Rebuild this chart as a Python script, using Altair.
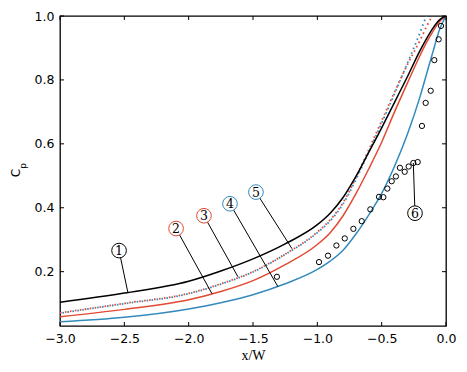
import altair as alt
import pandas as pd

RED = "#E24A33"
BLUE = "#348ABD"

# ---- curve data ----
curve_x = [-3.0, -2.5, -2.0, -1.75, -1.5, -1.25, -1.0, -0.9, -0.8, -0.7, -0.6, -0.5,
           -0.4, -0.3, -0.2, -0.15, -0.1, -0.05, 0.0]
black_y = [0.104, 0.133, 0.170, 0.202, 0.240, 0.287, 0.347, 0.383, 0.432, 0.498, 0.574,
           0.650, 0.730, 0.810, 0.893, 0.930, 0.963, 0.988, 1.0]
red_y = [0.059, 0.082, 0.112, 0.138, 0.172, 0.222, 0.285, 0.322, 0.375, 0.444, 0.522,
         0.605, 0.700, 0.790, 0.878, 0.918, 0.953, 0.983, 1.0]
blue_y = [0.043, 0.057, 0.083, 0.103, 0.128, 0.162, 0.207, 0.233, 0.267, 0.318, 0.378,
          0.445, 0.530, 0.630, 0.750, 0.820, 0.890, 0.958, 1.0]
red_dot_y = [0.071, 0.101, 0.132, 0.162, 0.200, 0.255, 0.324, 0.362, 0.416, 0.494, 0.582,
             0.672, 0.762, 0.848, 0.925, 0.968, 1.005, 1.040, 1.060]
blue_dot_y = [0.070, 0.100, 0.131, 0.161, 0.199, 0.254, 0.322, 0.359, 0.412, 0.488, 0.575,
              0.665, 0.757, 0.852, 0.950, 1.003, 1.050, 1.080, 1.100]

# ---- experimental points ----
exp_x = [-1.314, -0.987, -0.917, -0.852, -0.787, -0.720, -0.655, -0.588, -0.521, -0.487,
         -0.456, -0.422, -0.389, -0.358, -0.321, -0.290, -0.254, -0.220, -0.187, -0.158,
         -0.119, -0.091, -0.057, -0.039]
exp_y = [0.184, 0.230, 0.250, 0.282, 0.304, 0.334, 0.358, 0.395, 0.434, 0.433,
         0.460, 0.483, 0.498, 0.525, 0.5125, 0.529, 0.540, 0.543, 0.656, 0.728,
         0.766, 0.862, 0.927, 0.969]

# ---- annotations ----
ann_id = ["1", "2", "3", "4", "5", "6"]
ann_x = [-2.541, -2.098, -1.881, -1.679, -1.477, -0.241]
ann_y = [0.266, 0.335, 0.375, 0.4125, 0.449, 0.383]
tgt_x = [-2.472, -1.819, -1.617, -1.306, -1.197, -0.254]
tgt_y = [0.134, 0.131, 0.184, 0.153, 0.272, 0.540]
ann_color = ["black", RED, RED, BLUE, BLUE, "black"]

x_ticks = [-3.0, -2.5, -2.0, -1.5, -1.0, -0.5, 0.0]
y_ticks = [0.2, 0.4, 0.6, 0.8, 1.0]

W, H = 386, 310
TICK = 4

xscale = alt.Scale(domain=[-3.0, 0.0], nice=False, zero=False)
yscale = alt.Scale(domain=[0.03, 1.0], nice=False, zero=False)

x_axis = alt.Axis(values=x_ticks, format=".1f", ticks=False, domain=False, grid=False,
                  labelFlush=False, labelOverlap=False, labelBound=False,
                  labelFont="DejaVu Sans", labelFontSize=12.5, labelColor="black",
                  labelPadding=6, title="x/W", titleFont="Liberation Serif",
                  titleFontSize=14, titleFontWeight="normal", titleColor="black",
                  titlePadding=4)
y_axis = alt.Axis(values=y_ticks, format=".1f", ticks=False, domain=False, grid=False,
                  labelFlush=False, labelOverlap=False, labelBound=False,
                  labelFont="DejaVu Sans", labelFontSize=12.5, labelColor="black",
                  labelPadding=6, title=None)


def X(field="x"):
    return alt.X(f"{field}:Q", scale=xscale, axis=x_axis)


def Y(field="y"):
    return alt.Y(f"{field}:Q", scale=yscale, axis=y_axis)


def curve(ys, color, dash=None, offset=0, width=1.5):
    df = pd.DataFrame({"x": curve_x, "y": ys})
    kw = dict(color=color, strokeWidth=width, clip=True, interpolate="monotone")
    if dash:
        kw["strokeDash"] = dash
        kw["strokeDashOffset"] = offset
    return alt.Chart(df).mark_line(**kw).encode(x=X(), y=Y())


lines = [
    curve(blue_y, BLUE),
    curve(red_y, RED),
    curve(red_dot_y, RED, dash=[1.6, 3.4], offset=0, width=1.8),
    curve(blue_dot_y, BLUE, dash=[1.6, 3.4], offset=2.5, width=1.8),
    curve(black_y, "black"),
]

exp_df = pd.DataFrame({"x": exp_x, "y": exp_y})
points = alt.Chart(exp_df).mark_point(shape="circle", size=28, filled=False,
                                      color="black", strokeWidth=1, opacity=1).encode(
    x=X(), y=Y())

ann_df = pd.DataFrame({"id": ann_id, "x": ann_x, "y": ann_y, "tx": tgt_x, "ty": tgt_y})
leaders = alt.Chart(ann_df).mark_rule(color="black", strokeWidth=1).encode(
    x=X(), y=Y(), x2="tx:Q", y2="ty:Q")
badges = alt.Chart(ann_df).mark_point(shape="circle", size=215, filled=True, fill="white",
                                      strokeWidth=1, opacity=1, fillOpacity=1).encode(
    x=X(), y=Y(),
    stroke=alt.Stroke("id:N", scale=alt.Scale(domain=ann_id, range=ann_color), legend=None))
badge_text = alt.Chart(ann_df).mark_text(font="DejaVu Serif", fontSize=12.5, color="black",
                                         align="center", baseline="middle", dy=0.5).encode(
    x=X(), y=Y(), text="id:N")

# inward ticks on all four sides
xt = pd.DataFrame({"x": x_ticks})
yt = pd.DataFrame({"y": y_ticks})
ticks = [
    alt.Chart(xt).mark_rule(color="black", strokeWidth=1).encode(
        x=X(), y=alt.value(H), y2=alt.value(H - TICK)),
    alt.Chart(xt).mark_rule(color="black", strokeWidth=1).encode(
        x=X(), y=alt.value(0), y2=alt.value(TICK)),
    alt.Chart(yt).mark_rule(color="black", strokeWidth=1).encode(
        y=Y(), x=alt.value(0), x2=alt.value(TICK)),
    alt.Chart(yt).mark_rule(color="black", strokeWidth=1).encode(
        y=Y(), x=alt.value(W), x2=alt.value(W - TICK)),
]

# y title  C_p
ylab = pd.DataFrame({"t": ["C"]})
ysub = pd.DataFrame({"t": ["p"]})
ytitle = alt.Chart(ylab).mark_text(font="DejaVu Sans", fontSize=12, angle=270,
                                   align="center", baseline="middle", color="black").encode(
    text="t:N", x=alt.value(-44), y=alt.value(157))
ytitle_sub = alt.Chart(ysub).mark_text(font="DejaVu Sans", fontSize=9, angle=270,
                                       align="center", baseline="middle", color="black").encode(
    text="t:N", x=alt.value(-37), y=alt.value(150))

chart = alt.layer(*lines, points, leaders, badges, badge_text, *ticks, ytitle, ytitle_sub).properties(
    width=W, height=H,
    padding={"left": 52, "top": 8, "right": 10, "bottom": 38},
    autosize=alt.AutoSizeParams(type="none"),
    background="white",
).configure_view(stroke="black", strokeWidth=1.3)

chart.save("out.html", embed_options={"renderer": "svg", "actions": False})
